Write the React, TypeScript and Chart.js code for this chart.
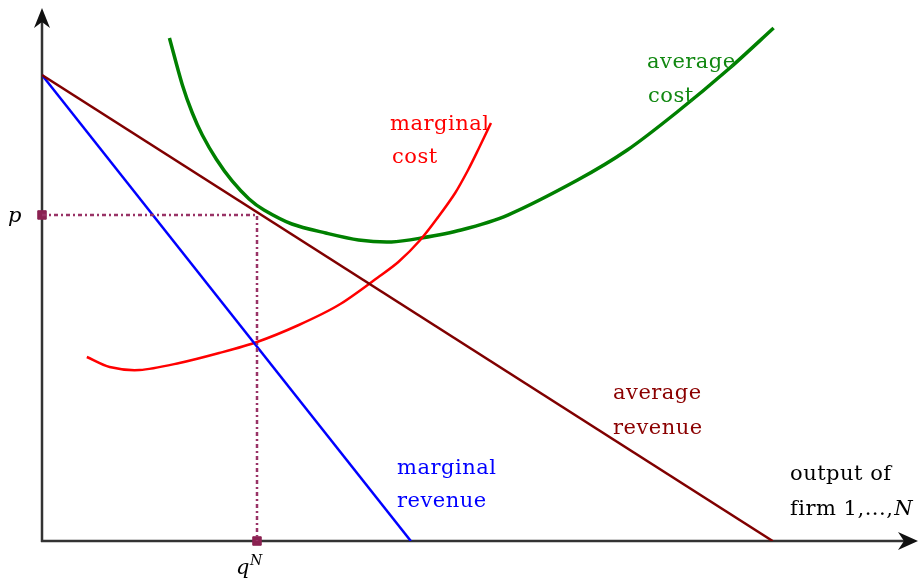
import React, { useEffect, useRef } from "react";
import { Chart, registerables } from "chart.js";

Chart.register(...registerables);

// Units: output on x (0..100), price/cost on y (0..100)
const demandIntercept = 87.76;
const averageRevenueEndX = 83.6;
const marginalRevenueEndX = 42.2;

const marginalCostX = [5.13, 7.74, 11.16, 15.72, 20.27, 24.6, 29.38, 33.94, 38.5, 40.77, 43.28, 45.33, 47.27, 48.75, 49.89, 51.37];
const marginalCostY = [34.65, 32.77, 32.2, 33.52, 35.4, 37.48, 40.68, 44.44, 49.72, 52.54, 56.69, 61.02, 65.54, 69.87, 73.63, 78.72];

const averageCostX = [14.58, 16.06, 17.2, 18.34, 19.93, 21.75, 23.69, 25.4, 28.59, 32.46, 36.22, 39.98, 43.39, 47.95, 53.3, 61.28, 66.97, 72.67, 78.7, 83.71];
const averageCostY = [94.73, 85.88, 80.6, 76.46, 71.94, 67.8, 64.41, 62.34, 59.7, 58.0, 56.69, 56.31, 57.06, 58.57, 61.39, 67.98, 73.63, 80.79, 89.08, 96.61];

const priceP = 61.4;
const quantityQ = 24.6;

const toPoints = (xs: number[], ys: number[]) => xs.map((x, i) => ({ x, y: ys[i] }));

const FONT = '"DejaVu Serif", serif';

const overlayPlugin = {
  id: "overlay",
  beforeDatasetsDraw(chart: any) {
    const { ctx, chartArea, scales } = chart;
    const x0 = scales.x.getPixelForValue(0);
    const y0 = scales.y.getPixelForValue(0);
    const top = chartArea.top;
    const right = chartArea.right;
    ctx.save();
    ctx.strokeStyle = "#333333";
    ctx.lineWidth = 2.5;
    ctx.beginPath();
    ctx.moveTo(x0, y0 + 1);
    ctx.lineTo(x0, top + 12);
    ctx.stroke();
    ctx.beginPath();
    ctx.moveTo(x0 - 1, y0);
    ctx.lineTo(right - 12, y0);
    ctx.stroke();
    ctx.fillStyle = "#111111";
    ctx.beginPath();
    ctx.moveTo(x0, top - 2);
    ctx.lineTo(x0 + 8, top + 18);
    ctx.lineTo(x0, top + 12);
    ctx.lineTo(x0 - 8, top + 18);
    ctx.closePath();
    ctx.fill();
    ctx.beginPath();
    ctx.moveTo(right + 2, y0);
    ctx.lineTo(right - 18, y0 - 9);
    ctx.lineTo(right - 12, y0);
    ctx.lineTo(right - 18, y0 + 9);
    ctx.closePath();
    ctx.fill();
    ctx.restore();
  },
  afterDatasetsDraw(chart: any) {
    const { ctx } = chart;
    const labels = [
      { t: "marginal", x: 390, y: 130, c: "#FF0000" },
      { t: "cost", x: 392, y: 163, c: "#FF0000" },
      { t: "average", x: 647, y: 68, c: "#118811" },
      { t: "cost", x: 648, y: 102, c: "#118811" },
      { t: "marginal", x: 397, y: 474, c: "#0000FF" },
      { t: "revenue", x: 397, y: 507, c: "#0000FF" },
      { t: "average", x: 613, y: 399, c: "#8B0000" },
      { t: "revenue", x: 613, y: 434, c: "#8B0000" },
      { t: "output of", x: 790, y: 480, c: "#000000" },
    ];
    ctx.save();
    ctx.textBaseline = "alphabetic";
    ctx.textAlign = "left";
    (ctx as any).letterSpacing = "0.5px";
    ctx.font = `21px ${FONT}`;
    labels.forEach((l) => {
      ctx.fillStyle = l.c;
      ctx.fillText(l.t, l.x, l.y);
    });
    ctx.fillStyle = "#000000";
    const firm = "firm 1,...,";
    ctx.fillText(firm, 790, 515);
    const w = ctx.measureText(firm).width;
    ctx.font = `italic 21px ${FONT}`;
    ctx.fillText("N", 790 + w + 1, 515);
    ctx.fillText("p", 8, 222);
    ctx.fillText("q", 236, 574);
    ctx.font = `italic 14px ${FONT}`;
    (ctx as any).letterSpacing = "0px";
    ctx.fillText("N", 250, 565);
    ctx.restore();
  },
};

export default function App() {
  const ref = useRef<HTMLCanvasElement>(null);
  useEffect(() => {
    if (!ref.current) return;
    const chart = new Chart(ref.current, {
      type: "line",
      data: {
        datasets: [
          {
            label: "guide",
            data: [
              { x: 0, y: priceP },
              { x: quantityQ, y: priceP },
              { x: quantityQ, y: 0 },
            ],
            borderColor: "#993366",
            borderWidth: 2.5,
            borderDash: [4, 3, 2, 3],
            pointRadius: 0,
            clip: false as any,
          },
          {
            label: "average revenue",
            data: [
              { x: 0, y: demandIntercept },
              { x: averageRevenueEndX, y: 0 },
            ],
            borderColor: "#800000",
            borderWidth: 2.5,
            pointRadius: 0,
          },
          {
            label: "marginal revenue",
            data: [
              { x: 0, y: demandIntercept },
              { x: marginalRevenueEndX, y: 0 },
            ],
            borderColor: "#0000FF",
            borderWidth: 2.5,
            pointRadius: 0,
          },
          {
            label: "marginal cost",
            data: toPoints(marginalCostX, marginalCostY),
            borderColor: "#FF0000",
            borderWidth: 2.5,
            pointRadius: 0,
            tension: 0.3,
          },
          {
            label: "average cost",
            data: toPoints(averageCostX, averageCostY),
            borderColor: "#008000",
            borderWidth: 3.5,
            pointRadius: 0,
            tension: 0.3,
          },
          {
            type: "scatter" as any,
            label: "markers",
            data: [
              { x: 0, y: priceP },
              { x: quantityQ, y: 0 },
            ],
            pointStyle: "rect",
            pointRadius: 6,
            backgroundColor: "#8B2252",
            borderColor: "#8B2252",
            borderWidth: 1,
            clip: false as any,
          },
        ] as any,
      },
      options: {
        animation: false,
        responsive: false,
        maintainAspectRatio: false,
        layout: { padding: { left: 42, top: 10, right: 3, bottom: 43 } },
        scales: {
          x: { type: "linear", min: 0, max: 100, display: false },
          y: { type: "linear", min: 0, max: 100, display: false },
        },
        plugins: {
          legend: { display: false },
          tooltip: { enabled: false },
        },
        events: [],
      },
      plugins: [overlayPlugin],
    });
    return () => chart.destroy();
  }, []);
  return (
    <div style={{ position: "fixed", left: 0, top: 0, width: 923, height: 584, background: "#ffffff" }}>
      <canvas ref={ref} width={923} height={584} style={{ display: "block", width: 923, height: 584 }} />
    </div>
  );
}
